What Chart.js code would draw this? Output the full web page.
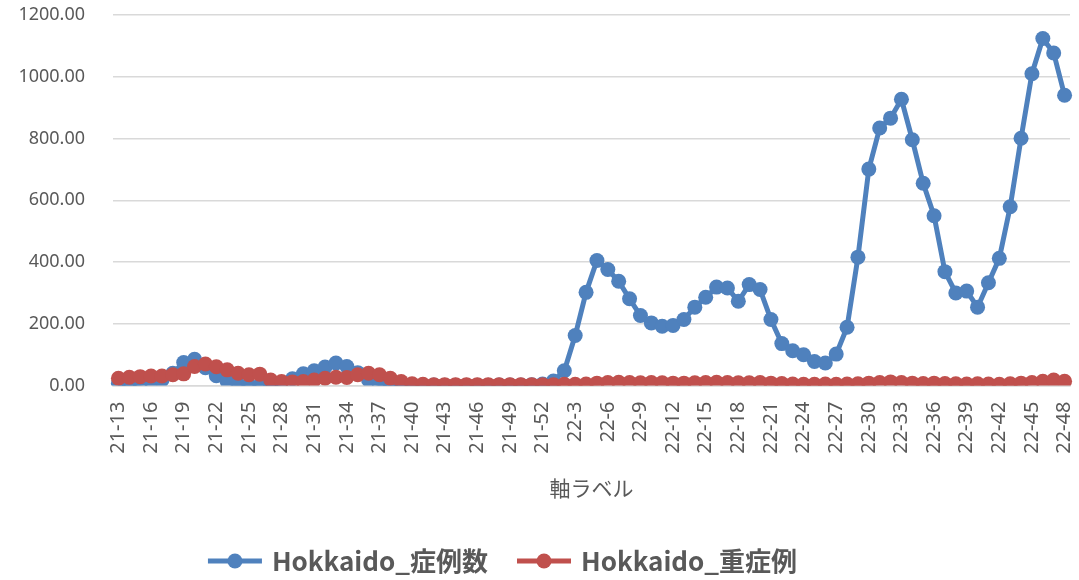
<!DOCTYPE html>
<html>
<head>
<meta charset="utf-8">
<script src="https://cdn.jsdelivr.net/npm/chart.js@4"></script>
<style>
    body { margin: 0; background: #ffffff; }
    #wrap { width: 1079px; height: 580px; }
</style>
</head>
<body>
<div id="wrap"><canvas id="chartHokkaido"></canvas></div>
<script>
// 週ラベル
const weeks = [
    '21-13','21-14','21-15','21-16','21-17','21-18','21-19','21-20','21-21','21-22',
    '21-23','21-24','21-25','21-26','21-27','21-28','21-29','21-30','21-31','21-32',
    '21-33','21-34','21-35','21-36','21-37','21-38','21-39','21-40','21-41','21-42',
    '21-43','21-44','21-45','21-46','21-47','21-48','21-49','21-50','21-51','21-52',
    '22-1','22-2','22-3','22-4','22-5','22-6','22-7','22-8','22-9','22-10',
    '22-11','22-12','22-13','22-14','22-15','22-16','22-17','22-18','22-19','22-20',
    '22-21','22-22','22-23','22-24','22-25','22-26','22-27','22-28','22-29','22-30',
    '22-31','22-32','22-33','22-34','22-35','22-36','22-37','22-38','22-39','22-40',
    '22-41','22-42','22-43','22-44','22-45','22-46','22-47','22-48'
];

// 症例数
const cases = [
    8, 6, 8, 14, 18, 40, 75, 85, 58, 32,
    14, 4, 0, 0, 3, 10, 22, 38, 48, 60,
    73, 62, 42, 18, 6, 3, 2, 1, 2, 2,
    1, 1, 1, 1, 1, 2, 2, 2, 3, 5,
    15, 48, 162, 302, 405, 376, 338, 281, 227, 203,
    192, 195, 214, 254, 286, 319, 316, 273, 327, 311,
    214, 136, 113, 100, 78, 73, 102, 189, 416, 701,
    834, 866, 927, 796, 655, 550, 369, 300, 306, 254,
    333, 412, 579, 801, 1010, 1124, 1077, 940
];

// 重症例
const severe = [
    24, 27, 29, 31, 31, 35, 38, 62, 70, 61,
    51, 40, 35, 37, 18, 13, 12, 13, 18, 24,
    27, 26, 35, 40, 35, 24, 13, 6, 4, 3,
    3, 3, 3, 3, 3, 3, 3, 3, 3, 3,
    3, 4, 4, 5, 8, 10, 11, 10, 9, 10,
    9, 8, 8, 9, 10, 11, 10, 9, 9, 10,
    8, 7, 5, 4, 4, 5, 4, 5, 6, 8,
    10, 12, 10, 8, 7, 8, 7, 6, 5, 6,
    5, 4, 6, 8, 10, 14, 18, 14
];

const yTicks = [0, 200, 400, 600, 800, 1000, 1200];

const BLUE = '#4f81bd';
const RED = '#c0504d';
const TEXT = '#595959';

// 凡例用のマーカー（線＋点）
function makeLegendIcon(color){
    const c = document.createElement('canvas');
    c.width = 58;
    c.height = 18;
    const g = c.getContext('2d');
    g.strokeStyle = color;
    g.lineWidth = 5;
    g.beginPath();
    g.moveTo(2, 9);
    g.lineTo(56, 9);
    g.stroke();
    g.fillStyle = color;
    g.beginPath();
    g.arc(29, 9, 7.5, 0, Math.PI * 2);
    g.fill();
    return c;
}
const legendIcons = [makeLegendIcon(BLUE), makeLegendIcon(RED)];

// 凡例の位置を微調整
const legendShift = {
    id: 'legendShift',
    afterLayout: function(chart){
        chart.legend.left -= 40;
        chart.legend.right -= 40;
        chart.legend.top += 4;
        chart.legend.bottom += 4;
    }
};

const data = {
    labels: weeks,
    datasets: [{
        label: 'Hokkaido_症例数',
        data: cases,
        borderColor: BLUE,
        backgroundColor: BLUE,
        borderWidth: 5,
        pointRadius: 7.5,
        pointHoverRadius: 7.5,
        pointBorderWidth: 0,
        order: 1,
    }, {
        label: 'Hokkaido_重症例',
        data: severe,
        borderColor: RED,
        backgroundColor: RED,
        borderWidth: 5,
        pointRadius: 7.5,
        pointHoverRadius: 7.5,
        pointBorderWidth: 0,
        order: 0,
    }]
};

const options = {
    responsive: true,
    maintainAspectRatio: false,
    animation: false,
    layout: {
        padding: { top: 0, left: 18, right: 9, bottom: 0 }
    },
    plugins: {
        tooltip: { enabled: false },
        legend: {
            position: 'bottom',
            labels: {
                usePointStyle: true,
                pointStyleWidth: 48,
                padding: 32,
                color: TEXT,
                font: { family: '"Noto Sans CJK JP", "Noto Sans", sans-serif', size: 26, weight: 'bold' },
                sort: (a, b) => a.datasetIndex - b.datasetIndex,
                generateLabels: function(chart){
                    const items = Chart.defaults.plugins.legend.labels.generateLabels(chart);
                    items.forEach(it => { it.pointStyle = legendIcons[it.datasetIndex]; });
                    return items;
                }
            }
        }
    },
    scales: {
        x: {
            offset: true,
            grid: { display: false },
            border: { display: true, color: '#d9d9d9', width: 1.5 },
            afterFit: function(axis){
                axis.paddingLeft = 0;
                axis.paddingRight = 0;
            },
            ticks: {
                autoSkip: false,
                maxRotation: 90,
                minRotation: 90,
                padding: 8,
                color: TEXT,
                font: { family: '"Noto Sans", sans-serif', size: 20 },
                callback: function(value, index){
                    return index % 3 === 0 ? weeks[index] : '';
                }
            },
            title: {
                display: true,
                text: '軸ラベル',
                color: TEXT,
                font: { family: '"Noto Sans CJK JP", sans-serif', size: 21 },
                padding: { top: 14, bottom: 11 }
            }
        },
        y: {
            min: 0,
            max: 1200,
            afterBuildTicks: function(axis){
                axis.ticks = yTicks.map(v => ({ value: v }));
            },
            afterFit: function(axis){
                axis.width = 95;
                axis.paddingTop = 15;
                axis.paddingBottom = 0;
            },
            grid: { color: '#d9d9d9', lineWidth: 1.5, drawTicks: true, tickLength: 24, tickColor: 'rgba(0,0,0,0)' },
            border: { display: false },
            ticks: {
                padding: 4,
                color: TEXT,
                font: { family: '"Noto Sans", sans-serif', size: 18 },
                callback: function(value){
                    return Number(value).toFixed(2);
                }
            }
        }
    }
};

const ctx = document.getElementById('chartHokkaido').getContext('2d');
const chartHokkaido = new Chart(ctx, {
    type: 'line',
    data: data,
    options: options,
    plugins: [legendShift]
});
</script>
</body>
</html>
